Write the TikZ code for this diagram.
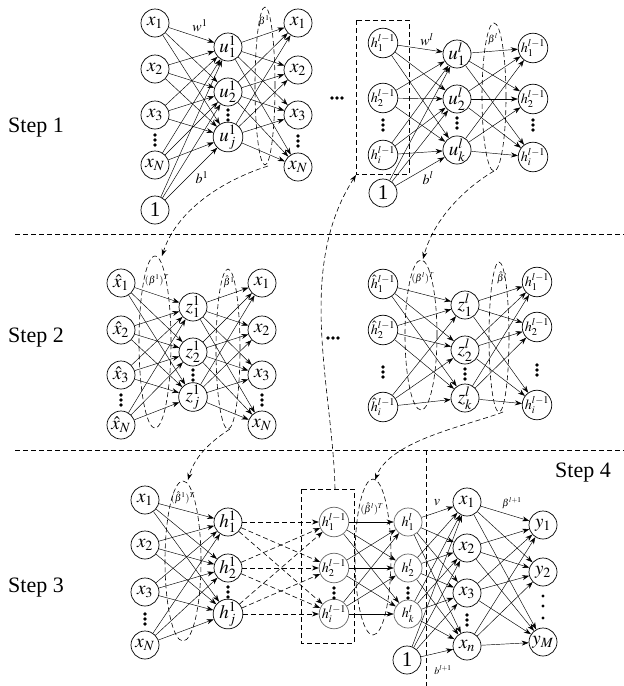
\documentclass[tikz,border=0pt]{standalone}
\usepackage[no-math]{fontspec}
\usepackage{mathptmx}
\setmainfont{Liberation Serif}
\usetikzlibrary{arrows.meta}
\tikzset{
  nd/.style={circle,draw,line width=0.7pt,minimum size=28pt,inner sep=0pt,fill=white,font=\fontsize{19}{19}\selectfont},
  ndh/.style={nd,font=\fontsize{14}{14}\selectfont},
  ndg/.style={ndh,draw=black!60},
  one/.style={nd,font=\fontsize{21}{21}\selectfont},
  cn/.style={line width=0.45pt,-{Stealth[length=7pt,width=5pt]}},
  dsh/.style={line width=0.6pt,dash pattern=on 5pt off 3pt},
  dcn/.style={dsh,-{Stealth[length=7pt,width=5pt]}},
  lbl/.style={font=\fontsize{14}{14}\selectfont,inner sep=0pt},
  lbs/.style={font=\fontsize{10}{10}\selectfont,inner sep=0pt},
  steplbl/.style={font=\fontsize{22}{24}\selectfont,inner sep=0pt},
}
\newcommand{\vdd}[2]{\fill (#1,#2-5) circle (1.9pt) (#1,#2) circle (1.9pt) (#1,#2+5) circle (1.9pt);}
\newcommand{\hdd}[2]{\fill (#1-5,#2) circle (1.9pt) (#1,#2) circle (1.9pt) (#1+5,#2) circle (1.9pt);}
\begin{document}
\begin{tikzpicture}[x=1pt,y=-1pt]
\path[use as bounding box,fill=white] (0,0) rectangle (624,686);

% separators
\draw[dsh,line width=0.8pt] (15,234) -- (624,234);
\draw[dsh,line width=0.8pt] (15,450) -- (624,450);
\draw[dsh,line width=0.8pt] (426,450) -- (426,686);

% step labels
\node[steplbl] (st1) at (36,128) {Step 1};
\node[steplbl] (st2) at (36,338) {Step 2};
\node[steplbl] (st3) at (36,588) {Step 3};
\node[steplbl] (st4) at (583,473) {Step 4};

% ================= STEP 1 LEFT =================
\node[nd] (a1) at (155,23) {$x_1$};
\node[nd] (a2) at (155,69) {$x_2$};
\node[nd] (a3) at (155,115) {$x_3$};
\node[nd] (a4) at (155,165) {$x_N$};
\node[one] (ab) at (155,210) {1};
\node[nd] (ah1) at (228,47) {$u_1^1$};
\node[nd] (ah2) at (228,92) {$u_2^1$};
\node[nd] (ah3) at (228,137) {$u_j^1$};
\node[nd] (ao1) at (298,23) {$x_1$};
\node[nd] (ao2) at (298,70) {$x_2$};
\node[nd] (ao3) at (298,115) {$x_3$};
\node[nd] (ao4) at (298,167) {$x_N$};
\vdd{155}{140} \vdd{228}{115} \vdd{298}{141}
\foreach \i in {1,2,3,4,b} \foreach \j in {1,2,3} \draw[cn] (a\i) -- (ah\j);
\foreach \i in {1,2,3} \foreach \j in {1,2,3,4} \draw[cn] (ah\i) -- (ao\j);
\draw[dsh] (265,86) ellipse [x radius=10pt, y radius=79pt];
\node[lbl,fill=white] (lw1) at (200,26) {$w^1$};
\node[lbl,fill=white] (lb1) at (202,178) {$b^1$};
\node[lbs] (lbe1) at (264,21) {$\beta^1$};

% ================= STEP 1 RIGHT =================
\hdd{337}{98}
\node[ndh] (b1) at (383,43) {$h_1^{l-1}$};
\node[ndh] (b2) at (383,98) {$h_2^{l-1}$};
\node[ndh] (b3) at (383,155) {$h_i^{l-1}$};
\node[one] (bb) at (383,193) {1};
\node[nd] (bh1) at (457,54) {$u_1^l$};
\node[nd] (bh2) at (457,99) {$u_2^l$};
\node[nd] (bh3) at (457,150) {$u_k^l$};
\node[ndh] (bo1) at (533,48) {$h_1^{l-1}$};
\node[ndh] (bo2) at (533,99) {$h_2^{l-1}$};
\node[ndh] (bo3) at (533,157) {$h_i^{l-1}$};
\vdd{383}{125} \vdd{457}{123} \vdd{533}{125}
\foreach \i in {1,2,3,b} \foreach \j in {1,2,3} \draw[cn] (b\i) -- (bh\j);
\foreach \i in {1,2,3} \foreach \j in {1,2,3} \draw[cn] (bh\i) -- (bo\j);
\draw[dsh] (356,20) rectangle (409,174);
\coordinate (rc1) at (356,175);
\draw[dsh] (494,97) ellipse [x radius=12pt, y radius=74pt];
\node[lbl] (lwl) at (427,40) {$w^l$};
\node[lbl,fill=white] (lbl1) at (428,178) {$b^l$};
\node[lbs] (lbel) at (493,39) {$\beta^l$};

% ================= STEP 2 LEFT =================
\node[nd] (c1) at (121,283) {$\hat{x}_1$};
\node[nd] (c2) at (121,330) {$\hat{x}_2$};
\node[nd] (c3) at (121,375) {$\hat{x}_3$};
\node[nd] (c4) at (121,425) {$\hat{x}_N$};
\node[nd] (ch1) at (193,307) {$z_1^1$};
\node[nd] (ch2) at (193,352) {$z_2^1$};
\node[nd] (ch3) at (193,397) {$z_j^1$};
\node[nd] (co1) at (262,283) {$x_1$};
\node[nd] (co2) at (262,330) {$x_2$};
\node[nd] (co3) at (262,375) {$x_3$};
\node[nd] (co4) at (262,425) {$x_N$};
\vdd{121}{400} \vdd{193}{375} \vdd{262}{400}
\foreach \i in {1,2,3,4} \foreach \j in {1,2,3} \draw[cn] (c\i) -- (ch\j);
\foreach \i in {1,2,3} \foreach \j in {1,2,3,4} \draw[cn] (ch\i) -- (co\j);
\draw[dsh] (155,342) ellipse [x radius=16pt, y radius=86pt];
\draw[dsh] (228,349) ellipse [x radius=12pt, y radius=80pt];
\node[lbs] (lbt1) at (157,280) {$(\beta^1)^T$};
\node[lbs] (lbh1) at (229,282) {$\hat{\beta}^1$};

% ================= STEP 2 RIGHT =================
\hdd{333}{338}
\node[ndh] (d1) at (383,284) {$\hat{h}_1^{l-1}$};
\node[ndh] (d2) at (383,330) {$\hat{h}_2^{l-1}$};
\node[ndh] (d3) at (383,407) {$\hat{h}_i^{l-1}$};
\node[nd] (dh1) at (465,305) {$z_1^l$};
\node[nd] (dh2) at (465,350) {$z_2^l$};
\node[nd] (dh3) at (465,398) {$z_k^l$};
\node[ndh] (do1) at (537,282) {$h_1^{l-1}$};
\node[ndh] (do2) at (537,327) {$h_2^{l-1}$};
\node[ndh] (do3) at (537,405) {$h_i^{l-1}$};
\vdd{383}{372} \vdd{465}{374} \vdd{537}{370}
\foreach \i in {1,2,3} \foreach \j in {1,2,3} \draw[cn] (d\i) -- (dh\j);
\foreach \i in {1,2,3} \foreach \j in {1,2,3} \draw[cn] (dh\i) -- (do\j);
\draw[dsh] (421,335) ellipse [x radius=16pt, y radius=75pt];
\draw[dsh] (499,337) ellipse [x radius=10pt, y radius=75pt];
\node[lbs] (lbtl) at (423,278) {$(\beta^l)^T$};
\node[lbs] (lbhl) at (502,278) {$\hat{\beta}^l$};

% ================= STEP 3 =================
\node[nd] (e1) at (145,500) {$x_1$};
\node[nd] (e2) at (145,545) {$x_2$};
\node[nd] (e3) at (145,592) {$x_3$};
\node[nd] (e4) at (145,645) {$x_N$};
\node[nd] (eh1) at (228,522) {$h_1^1$};
\node[nd] (eh2) at (228,568) {$h_2^1$};
\node[nd] (eh3) at (228,614) {$h_j^1$};
\vdd{145}{619} \vdd{228}{592}
\foreach \i in {1,2,3,4} \foreach \j in {1,2,3} \draw[cn] (e\i) -- (eh\j);
\draw[dsh] (183,561) ellipse [x radius=18pt, y radius=80pt];
\node[lbs] (lbt3) at (183,498) {$(\hat{\beta}^1)^T$};

\node[ndg] (f1) at (334,522) {$h_1^{l-1}$};
\node[ndg] (f2) at (334,568) {$h_2^{l-1}$};
\node[ndg] (f3) at (334,614) {$h_i^{l-1}$};
\node[ndg] (g1) at (408,522) {$h_1^l$};
\node[ndg] (g2) at (408,568) {$h_2^l$};
\node[ndg] (g3) at (408,614) {$h_k^l$};
\node[one] (gb) at (407,660) {1};
\vdd{334}{593} \vdd{408}{593}
\foreach \i in {1,2,3} \foreach \j in {1,2,3} \draw[dcn] (eh\i) -- (f\j);
\foreach \i in {1,2,3} \foreach \j in {1,2,3} \draw[cn] (f\i) -- (g\j);
\draw[dsh] (301,489) rectangle (354,643);
\coordinate (rc3) at (335,489);
\draw[dsh] (373,557) ellipse [x radius=18pt, y radius=78pt];
\node[lbs] (lbt4) at (372,509) {$(\hat{\beta}^l)^T$};

% ================= STEP 4 =================
\node[nd] (k1) at (467,502) {$x_1$};
\node[nd] (k2) at (467,548) {$x_2$};
\node[nd] (k3) at (467,593) {$x_3$};
\node[nd] (k4) at (467,646) {$x_n$};
\node[nd] (y1) at (543,525) {$y_1$};
\node[nd] (y2) at (543,572) {$y_2$};
\node[nd] (y3) at (543,642) {$y_M$};
\vdd{467}{620}
\fill (543,596) circle (1.6pt) (543,606) circle (1.6pt) (543,618) circle (1.6pt);
\foreach \i in {1,2,3,b} \foreach \j in {1,2,3,4} \draw[cn] (g\i) -- (k\j);
\foreach \i in {1,2,3,4} \foreach \j in {1,2,3} \draw[cn] (k\i) -- (y\j);
\node[lbl,fill=white] (lv) at (437,503) {$v$};
\node[lbs] (lbl2) at (443,670) {$b^{l+1}$};
\node[lbs] (lbe2) at (512,503) {$\beta^{l+1}$};

% ================= curved dashed arrows =================
\coordinate (p1s) at (268,166);
\coordinate (p1e) at (162,256);
\draw[dcn] (p1s) .. controls (215,183) and (175,215) .. (p1e);
\draw[dcn] (rc3) .. controls (333,390) and (295,270) .. (rc1);
\coordinate (p3s) at (494,171);
\coordinate (p3e) at (423,259);
\draw[dcn] (p3s) .. controls (470,185) and (435,215) .. (p3e);
\coordinate (p4s) at (230,429);
\coordinate (p4e) at (188,480);
\draw[dcn] (p4s) .. controls (213,440) and (195,455) .. (p4e);
\coordinate (p5s) at (503,412);
\coordinate (p5e) at (375,480);
\draw[dcn] (p5s) .. controls (470,425) and (390,440) .. (p5e);
\end{tikzpicture}
\end{document}
